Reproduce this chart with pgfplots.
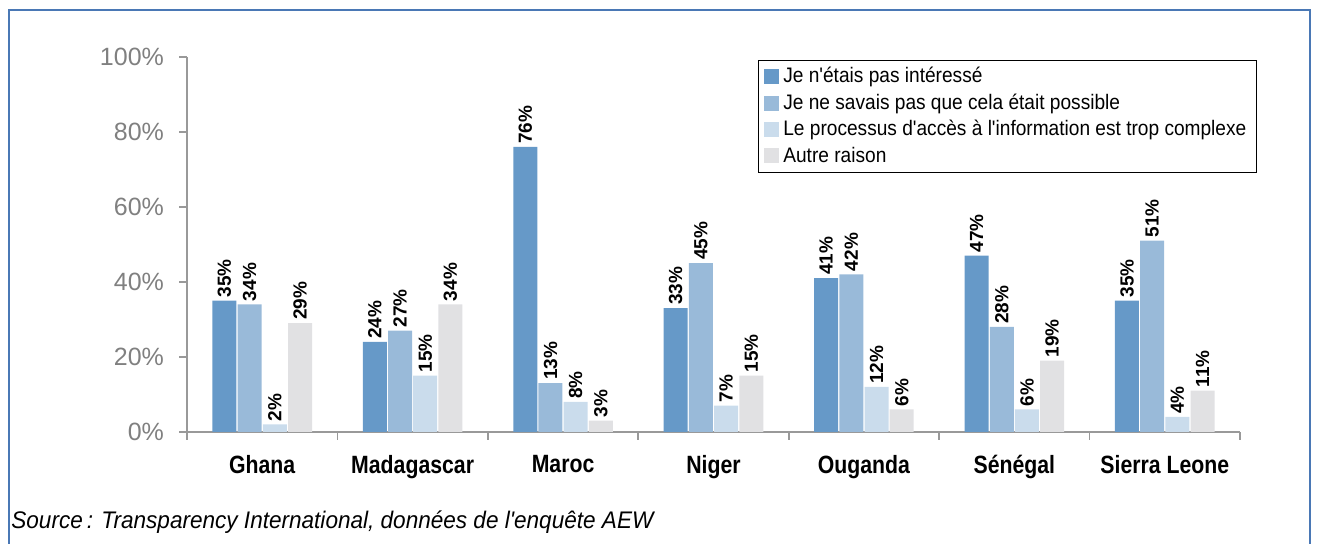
\documentclass[border=0pt]{standalone}
\usepackage{fontspec}
\setmainfont{Liberation Sans}
\newfontfamily\condfont[FakeStretch=0.85]{Liberation Sans}
\newfontfamily\legfont[FakeStretch=0.91]{Liberation Sans}
\newfontfamily\srcfont[FakeStretch=0.94]{Liberation Sans}
\usepackage{pgfplots}
\pgfplotsset{compat=1.18}

\definecolor{cA}{HTML}{6699C8}
\definecolor{cB}{HTML}{99BAD9}
\definecolor{cC}{HTML}{CADCEC}
\definecolor{cD}{HTML}{E1E1E3}
\definecolor{frameblue}{HTML}{4A78B5}
\definecolor{axgray}{HTML}{999999}
\definecolor{tickgray}{HTML}{808080}

\begin{document}
\begin{tikzpicture}
\useasboundingbox (0pt,0pt) rectangle (658.5pt,-272pt);
\draw[frameblue, line width=0.8pt] (4.5pt,-272pt) -- (4.5pt,-5pt) -- (655pt,-5pt) -- (655pt,-272pt);

\begin{axis}[
    at={(93.5pt,-216pt)}, anchor=south west,
    scale only axis,
    width=526.5pt, height=187.5pt,
    ybar=0.6pt, bar width=12pt,
    xmin=-0.5, xmax=6.5,
    ymin=0, ymax=100,
    axis x line*=bottom, axis y line*=left,
    axis line style={axgray, line width=0.8pt, -},
    xtick={0,...,6},
    xticklabels={Ghana, Madagascar, Maroc, Niger, Ouganda, Sénégal, Sierra Leone},
    x tick label style={font=\condfont\bfseries\fontsize{12.5}{14}\selectfont, yshift=-4pt},
    major x tick style={draw=none},
    minor xtick={-0.5,0.5,...,6.5},
    minor tick length=4pt,
    minor x tick style={axgray, line width=0.8pt},
    ytick={0,20,...,100},
    yticklabel={\pgfmathprintnumber{\tick}\%},
    y tick label style={font=\fontsize{12.5}{14}\selectfont, text=tickgray, /pgf/number format/assume math mode=true, xshift=-4pt},
    major tick length=4pt,
    tick align=outside,
    y tick style={axgray, line width=0.8pt},
    nodes near coords={\pgfmathprintnumber{\pgfplotspointmeta}\%},
    every node near coord/.append style={rotate=90, anchor=west, font=\bfseries\fontsize{9.5}{9.5}\selectfont, inner sep=1.5pt, /pgf/number format/assume math mode=true},
    legend style={at={(1.016,0.992)}, anchor=north east, draw=black, line width=0.5pt,
        font=\legfont\fontsize{10.5}{12}\selectfont, inner xsep=3pt, inner ysep=1.5pt,
        row sep=0pt},
    legend cell align=left,
    legend image code/.code={\fill[#1] (0pt,-3.75pt) rectangle (7.5pt,3.75pt);},
]
\addplot[fill=cA, draw=none] coordinates {(0,35) (1,24) (2,76) (3,33) (4,41) (5,47) (6,35)};
\addplot[fill=cB, draw=none] coordinates {(0,34) (1,27) (2,13) (3,45) (4,42) (5,28) (6,51)};
\addplot[fill=cC, draw=none] coordinates {(0,2) (1,15) (2,8) (3,7) (4,12) (5,6) (6,4)};
\addplot[fill=cD, draw=none] coordinates {(0,29) (1,34) (2,3) (3,15) (4,6) (5,19) (6,11)};
\legend{Je n'étais pas intéressé, Je ne savais pas que cela était possible, Le processus d'accès à l'information est trop complexe, Autre raison}
\end{axis}

\node[anchor=west, inner sep=0pt, font=\srcfont\itshape\fontsize{12}{14}\selectfont] at (5.5pt,-261pt) {Source\,: Transparency International, données de l'enquête AEW};
\end{tikzpicture}
\end{document}
